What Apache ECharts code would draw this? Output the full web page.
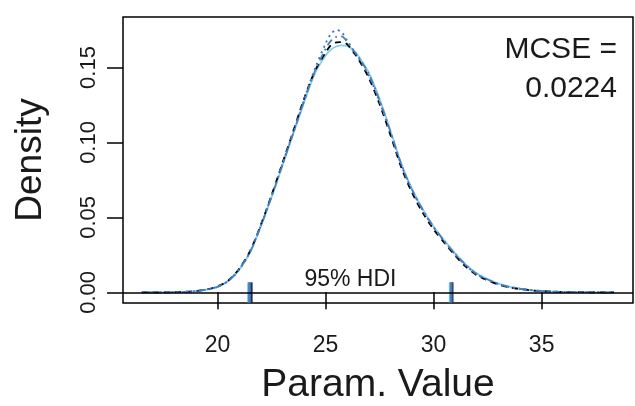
<!DOCTYPE html>
<html>
<head>
<meta charset="utf-8">
<script src="https://cdn.jsdelivr.net/npm/echarts@6/dist/echarts.min.js"></script>
<style>
  html, body { margin: 0; padding: 0; background: #ffffff; }
  #chart { width: 635px; height: 406px; }
</style>
</head>
<body>
<div id="chart"></div>
<script>
// Parameter grid shared by the four chain density estimates
const paramValues = [16.49, 18.0, 18.5, 19.0, 19.5, 20.0, 20.5, 21.0, 21.5, 22.0, 22.5, 23.0, 23.5, 24.0, 24.5,
  25.0, 25.25, 25.5, 25.75, 26.0, 26.25, 26.5, 27.0, 27.5, 28.0, 28.5, 29.0, 29.5, 30.0, 30.5, 31.0, 31.5,
  32.0, 32.5, 33.0, 33.5, 34.0, 34.5, 35.0, 35.5, 36.0, 37.0, 38.35];

// Density of each MCMC chain at the grid points
const densChain1 = [0, 0.0001, 0.0003, 0.0008, 0.0018, 0.0036, 0.0075, 0.0150, 0.0265, 0.0440, 0.0635, 0.0845, 0.1055, 0.1265, 0.1460,
  0.1580, 0.1620, 0.1640, 0.1648, 0.1645, 0.1620, 0.1580, 0.1465, 0.1290, 0.1080, 0.0860, 0.0690, 0.0555, 0.0440, 0.0345, 0.0260, 0.0185,
  0.0125, 0.0088, 0.0058, 0.0038, 0.0025, 0.0015, 0.0009, 0.0005, 0.0003, 0.0001, 0];
const densChain2 = [0, 0.0001, 0.0004, 0.0009, 0.0020, 0.0040, 0.0080, 0.0158, 0.0275, 0.0450, 0.0650, 0.0862, 0.1075, 0.1290, 0.1475,
  0.1600, 0.1650, 0.1668, 0.1670, 0.1655, 0.1610, 0.1560, 0.1430, 0.1255, 0.1050, 0.0835, 0.0665, 0.0530, 0.0420, 0.0330, 0.0245, 0.0170,
  0.0115, 0.0080, 0.0052, 0.0034, 0.0022, 0.0014, 0.0008, 0.0005, 0.0002, 0.0001, 0];
const densChain3 = [0, 0.0001, 0.0003, 0.0008, 0.0019, 0.0038, 0.0078, 0.0152, 0.0270, 0.0445, 0.0645, 0.0858, 0.1070, 0.1285, 0.1490,
  0.1660, 0.1725, 0.1750, 0.1735, 0.1680, 0.1625, 0.1570, 0.1445, 0.1270, 0.1065, 0.0850, 0.0680, 0.0545, 0.0432, 0.0338, 0.0252, 0.0178,
  0.0120, 0.0085, 0.0055, 0.0036, 0.0024, 0.0015, 0.0009, 0.0005, 0.0003, 0.0001, 0];
const densChain4 = [0, 0.0001, 0.0003, 0.0009, 0.0019, 0.0037, 0.0077, 0.0155, 0.0268, 0.0442, 0.0640, 0.0850, 0.1062, 0.1275, 0.1475,
  0.1625, 0.1680, 0.1705, 0.1708, 0.1670, 0.1620, 0.1575, 0.1455, 0.1280, 0.1072, 0.0855, 0.0685, 0.0550, 0.0436, 0.0342, 0.0256, 0.0182,
  0.0122, 0.0086, 0.0056, 0.0037, 0.0024, 0.0015, 0.0009, 0.0005, 0.0003, 0.0001, 0];

// 95% HDI limits per chain
const hdiLower = [21.42, 21.56, 21.50, 21.46];
const hdiUpper = [30.76, 30.86, 30.82, 30.80];

const mcseValue = '0.0224';
const xTickValues = [20, 25, 30, 35];
const yTickValues = [0, 0.05, 0.10, 0.15];

const chainDensities = [densChain1, densChain2, densChain3, densChain4];
const chainColors = ['#87CEEB', '#000000', '#4169E1', '#4682B4'];
const chainDash = ['solid', [6, 5], [2, 4], [2, 4, 7, 4]];

const FONT = '"Liberation Sans", Arial, sans-serif';
const TEXT = '#1a1a1a';

const chart = echarts.init(document.getElementById('chart'), null, { renderer: 'canvas' });

const series = [];
chainDensities.forEach((d, i) => {
  series.push({
    name: 'chain' + (i + 1),
    type: 'line',
    data: paramValues.map((x, k) => [x, d[k]]),
    smooth: 0.3,
    showSymbol: false,
    symbol: 'none',
    silent: true,
    lineStyle: { color: chainColors[i], width: 1.8, type: chainDash[i] },
    z: 2
  });
});

// Zero baseline drawn over the curves
series.push({
  name: 'baseline',
  type: 'line',
  data: [],
  silent: true,
  z: 3,
  markLine: {
    silent: true,
    symbol: 'none',
    label: { show: false },
    lineStyle: { color: '#000', width: 1.5, type: 'solid' },
    data: [{ yAxis: 0 }]
  }
});

// HDI limit marks, one pair per chain
chainColors.forEach((c, i) => {
  series.push({
    name: 'hdi' + (i + 1),
    type: 'scatter',
    data: [[hdiLower[i], 0], [hdiUpper[i], 0]],
    symbol: 'rect',
    symbolSize: [2.5, 20],
    silent: true,
    itemStyle: { color: c, opacity: 0.9 },
    z: 4
  });
});

const xMin = 15.62, xMax = 39.23;
const yMin = -0.0071, yMax = 0.1837;

chart.setOption({
  animation: false,
  backgroundColor: '#ffffff',
  grid: {
    left: 123, right: 2, top: 17, bottom: 103,
    show: true, borderColor: '#000', borderWidth: 1.5, backgroundColor: 'transparent',
    outerBoundsMode: 'none'
  },
  xAxis: {
    type: 'value', min: xMin, max: xMax,
    name: 'Param. Value', nameLocation: 'middle', nameGap: 63,
    nameTextStyle: { fontFamily: FONT, fontSize: 39, color: TEXT },
    axisLine: { show: false },
    splitLine: { show: false },
    axisTick: { show: true, inside: false, length: 17, customValues: xTickValues, lineStyle: { color: '#000', width: 1.5 } },
    axisLabel: { show: true, customValues: xTickValues, margin: 31, fontFamily: FONT, fontSize: 23, color: TEXT,
      formatter: v => String(v) }
  },
  yAxis: {
    type: 'value', min: yMin, max: yMax,
    name: 'Density', nameLocation: 'middle', nameGap: 74, nameRotate: 90,
    nameTextStyle: { fontFamily: FONT, fontSize: 37, color: TEXT },
    axisLine: { show: false },
    splitLine: { show: false },
    axisTick: { show: true, inside: false, length: 16, customValues: yTickValues, lineStyle: { color: '#000', width: 1.5 } },
    axisLabel: { show: true, customValues: yTickValues, rotate: 90, margin: 23, fontFamily: FONT, fontSize: 22, color: TEXT,
      formatter: v => v.toFixed(2) }
  },
  series: series
});

// Annotations placed in data coordinates
const hdiAll = hdiLower.concat(hdiUpper);
const hdiMid = hdiAll.reduce((a, b) => a + b, 0) / hdiAll.length;
const densMaxX = Math.max.apply(null, paramValues);
const densMaxY = Math.max.apply(null, chainDensities.map(d => Math.max.apply(null, d)));

const hdiPos = chart.convertToPixel({ gridIndex: 0 }, [hdiMid, 0]);
const mcsePos = chart.convertToPixel({ gridIndex: 0 }, [densMaxX, densMaxY]);

chart.setOption({
  graphic: [
    {
      type: 'text', x: hdiPos[0], y: hdiPos[1] - 1, z: 10, silent: true,
      style: { text: '95% HDI', fontFamily: FONT, fontSize: 23, fill: TEXT, align: 'center', verticalAlign: 'bottom' }
    },
    {
      type: 'text', x: mcsePos[0] + 3, y: mcsePos[1], z: 10, silent: true,
      style: { text: 'MCSE =\n ' + mcseValue, fontFamily: FONT, fontSize: 30, lineHeight: 39, fill: TEXT, align: 'right', verticalAlign: 'top' }
    }
  ]
});
</script>
</body>
</html>
